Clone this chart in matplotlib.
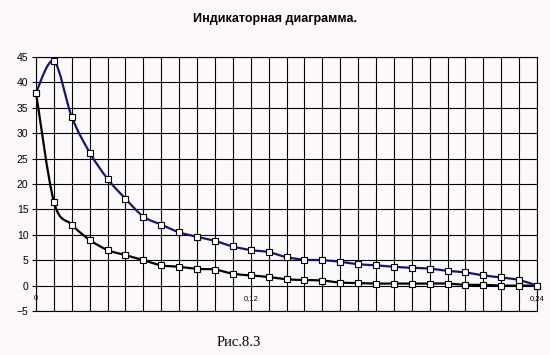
import numpy as np
import matplotlib
matplotlib.use('Agg')
import matplotlib.pyplot as plt
from matplotlib.path import Path
from matplotlib.patches import PathPatch

# данные (29 точек по оси X)
blue_vals = [38.0, 44.2, 33.2, 26.2, 21.0, 17.1, 13.6, 12.0, 10.5, 9.6,
             8.8, 7.7, 7.0, 6.6, 5.6, 5.1, 5.0, 4.7, 4.2, 4.0,
             3.7, 3.5, 3.35, 2.9, 2.6, 2.0, 1.6, 1.1, 0.0]
black_vals = [38.0, 16.5, 12.0, 9.0, 7.0, 6.0, 5.0, 4.0, 3.7, 3.3,
              3.15, 2.35, 2.0, 1.7, 1.25, 1.1, 1.0, 0.6, 0.5, 0.4,
              0.4, 0.4, 0.4, 0.4, 0.15, 0.15, 0.0, 0.0, 0.0]
x_tick_pos = [0, 12, 28]
x_tick_labels = ['0', '0,12', '0,24']
y_ticks = [-5, 0, 5, 10, 15, 20, 25, 30, 35, 40, 45]

bg = '#fcf8fc'


def smooth_path(x, y):
    # сглаженная линия как в Excel (кривые Безье через точки)
    pts = np.column_stack([x, y]).astype(float)
    n = len(pts)
    verts = [pts[0]]
    codes = [Path.MOVETO]
    for i in range(n - 1):
        p0 = pts[i - 1] if i > 0 else pts[i]
        p1 = pts[i]
        p2 = pts[i + 1]
        p3 = pts[i + 2] if i + 2 < n else pts[i + 1]
        c1 = p1 + (p2 - p0) / 6.0
        c2 = p2 - (p3 - p1) / 6.0
        verts += [c1, c2, p2]
        codes += [Path.CURVE4] * 3
    return Path(verts, codes)


fig = plt.figure(figsize=(5.5, 3.55), dpi=100, facecolor=bg)
ax = fig.add_axes([36 / 550, 1 - 311 / 355, 501 / 550, 254 / 355], facecolor=bg)

x = np.arange(len(blue_vals))

for vals, col in [(black_vals, '#000000'), (blue_vals, '#16166e')]:
    ax.add_patch(PathPatch(smooth_path(x, vals), facecolor='none', edgecolor=col,
                           lw=1.6, zorder=3, clip_on=False))
    ax.plot(x, vals, ls='none', marker='s', ms=4.2, mfc='white', mec='black',
            mew=0.8, zorder=4, clip_on=False)

ax.set_xlim(0, 28)
ax.set_ylim(-5, 45)
ax.set_xticks(x)
ax.set_yticks(y_ticks)
ax.tick_params(axis='x', length=0, labelbottom=False)
ax.tick_params(axis='y', length=3, width=0.8, pad=2.5, labelsize=7.5,
               color='black')
ax.grid(True, color='black', lw=0.8)
for s in ax.spines.values():
    s.set_color('black')
    s.set_linewidth(0.8)
for lab in ax.get_yticklabels():
    lab.set_family('Liberation Sans')

# подписи оси X у линии y = 0
sec = ax.secondary_xaxis(0.1)
sec.set_xticks(x_tick_pos)
sec.set_xticklabels(x_tick_labels, fontsize=5.5, family='Liberation Sans')
sec.tick_params(length=0, pad=7)
sec.spines['bottom'].set_visible(False)

fig.text(0.5, 1 - 19 / 355, 'Индикаторная диаграмма.', ha='center', va='center',
         fontsize=9, fontweight='bold', family='Liberation Sans')
fig.text(239 / 550, 1 - 343 / 355, 'Рис.8.3', ha='center', va='center',
         fontsize=10.5, family='Liberation Serif')

fig.savefig('out.png', dpi=100, facecolor=bg)
